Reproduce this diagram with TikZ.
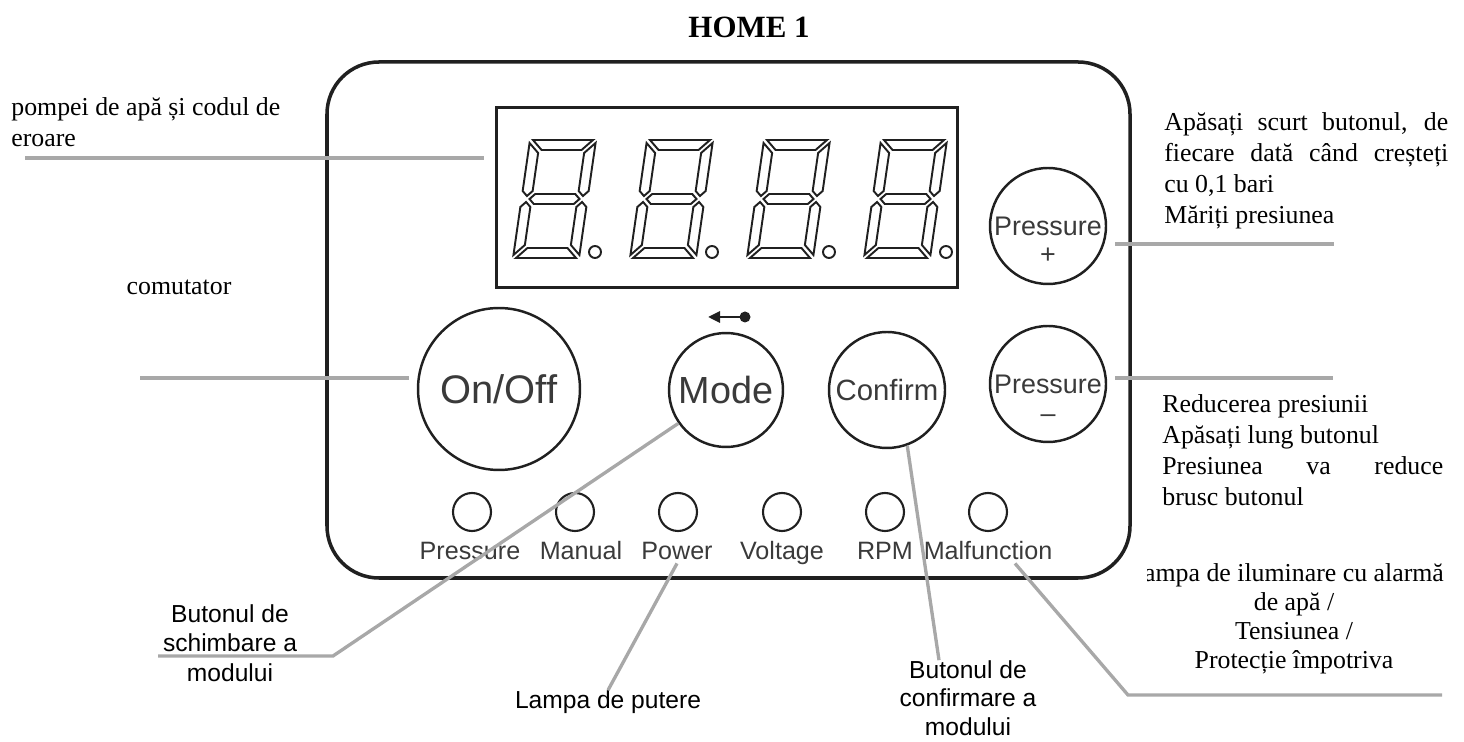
\documentclass[tikz,border=0pt]{standalone}
\usepackage{fontspec}
\setmainfont{Liberation Serif}
\setsansfont{Liberation Sans}
\usetikzlibrary{arrows.meta}

\definecolor{leadgray}{HTML}{A8A8A8}
\definecolor{inkdark}{HTML}{202020}
\definecolor{labelgray}{HTML}{3A3A3A}

% one seven-segment digit, #1 = left edge of its top
\newcommand{\segdigit}[1]{%
	\begin{scope}[shift={(#1,140)}, xslant=0.144, draw=inkdark, line width=1.1pt]
		\draw (3,0) -- (63,0) -- (53,10) -- (13,10) -- cycle;
		\draw (0,3) -- (10,13) -- (10,51) -- (5,56) -- (0,51) -- cycle;
		\draw (66,3) -- (66,51) -- (61,56) -- (56,51) -- (56,13) -- cycle;
		\draw (8,59) -- (13,54) -- (53,54) -- (58,59) -- (53,64) -- (13,64) -- cycle;
		\draw (0,67) -- (5,62) -- (10,67) -- (10,105) -- (0,115) -- cycle;
		\draw (66,67) -- (66,115) -- (56,105) -- (56,67) -- (61,62) -- cycle;
		\draw (3,118) -- (63,118) -- (53,108) -- (13,108) -- cycle;
	\end{scope}}

\begin{document}
\begin{tikzpicture}[x=0.02cm, y=-0.02cm,
		lead/.style={draw=leadgray, line width=1.9pt},
		btn/.style={circle, draw=inkdark, line width=1.4pt, inner sep=0pt, text=labelgray},
		led/.style={circle, draw=inkdark, line width=1.2pt, minimum size=0.76cm, inner sep=0pt},
		ledlbl/.style={font=\sffamily\fontsize{14.3}{14.3}\selectfont, text=labelgray, inner sep=0pt, text height=0.72em, text depth=0.2em},
		note/.style={font=\fontsize{14.7}{17.6}\selectfont, inner sep=0pt},
		snote/.style={font=\sffamily\fontsize{14}{16.8}\selectfont, align=center, inner sep=0pt}]
	\useasboundingbox (0,0) rectangle (1464,742);
	
	\node[font=\bfseries\fontsize{17.6}{17.6}\selectfont] (title) at (749,27) {HOME 1};
	
	% Panou
	\draw[inkdark, line width=2pt, rounded corners=1.04cm] (327,62) rectangle (1130,578);
	
	% Afisaj
	\node[draw=inkdark, line width=1.7pt, minimum width=9.24cm, minimum height=3.62cm, inner sep=0pt] (display) at (727,197.5) {};
	\foreach \dx in {530,647,764,881}
		\segdigit{\dx};
	\foreach \px in {595,712,829,946}
		\draw[inkdark, line width=1.1pt] (\px,252) circle (0.12cm);
	
	% Butoane
	\node[btn, minimum size=3.24cm, font=\sffamily\fontsize{22.7}{22.7}\selectfont] (onoff) at (499,389) {On/Off};
	\node[btn, minimum size=2.28cm, font=\sffamily\fontsize{21.5}{21.5}\selectfont] (mode) at (726,390) {Mode};
	\node[btn, minimum size=2.32cm, font=\sffamily\fontsize{16.7}{16.7}\selectfont] (confirm) at (887,390) {Confirm};
	\node[btn, minimum size=2.32cm, font=\sffamily\fontsize{15.3}{15.3}\selectfont] (pplus) at (1048,226) {Pressure};
	\node[text=labelgray, font=\sffamily\fontsize{15.3}{15.3}\selectfont, inner sep=0pt] (pplussign) at (1048,256) {+};
	\node[btn, minimum size=2.32cm, font=\sffamily\fontsize{15.3}{15.3}\selectfont] (pminus) at (1048,384) {Pressure};
	\node[text=labelgray, font=\sffamily\fontsize{15.3}{15.3}\selectfont, inner sep=0pt] (pminussign) at (1048,419) {–};
	
	% sageata Mode
	\fill[inkdark] (745,317) circle (0.11cm);
	\draw[inkdark, line width=1.6pt, -{Triangle[length=0.24cm, width=0.22cm]}] (745,317) -- (708,317);
	
	% Lampi
	\foreach \i/\lx/\tx/\lbl in {1/472/470/Pressure, 2/575/581/Manual, 3/678/677/Power, 4/782/782/Voltage, 5/885/885/RPM, 6/988/988/Malfunction}{
		\node[led] (led\i) at (\lx,512) {};
		\node[ledlbl] (lbl\i) at (\tx,555) {\lbl};
	}
	
	% Texte
	\node[note, anchor=west, align=left] (displaynote) at (11,122) {pompei de apă și codul de\\eroare};
	\node[note] (switchnote) at (179,287) {comutator};
	\node[note, anchor=north west, text width=5.68cm, align=justify] (plusnote) at (1164,112)
		{Apăsați scurt butonul, de\linebreak fiecare dată când creșteți\linebreak cu 0,1 bari\\Măriți presiunea};
	\node[note, anchor=north west, text width=5.62cm, align=justify] (minusnote) at (1162,394)
		{Reducerea presiunii\\Apăsați lung butonul\\Presiunea va reduce\linebreak brusc butonul};
	\begin{scope}
		\clip (1147,540) rectangle (1464,700);
		\node[note, font=\fontsize{14.7}{16.6}\selectfont, align=center] (alarmnote) at (1294,619)
			{ampa de iluminare cu alarmă\\de apă /\\Tensiunea /\\Protecție împotriva};
	\end{scope}
	\node[snote] (modenote) at (230,643) {Butonul de\\schimbare a\\modului};
	\node[snote] (powernote) at (608,702) {Lampa de putere};
	\node[snote, font=\sffamily\fontsize{14}{16.2}\selectfont] (confnote) at (968,698) {Butonul de\\confirmare a\\modului};
	
	% Linii
	\coordinate (disp1) at (25,158);
	\coordinate (disp2) at (484,158);
	\draw[lead] (disp1) -- (disp2);
	\coordinate (sw1) at (140,378);
	\coordinate (sw2) at (409,378);
	\draw[lead] (sw1) -- (sw2);
	\coordinate (plus1) at (1115,244);
	\coordinate (plus2) at (1334,244);
	\draw[lead] (plus1) -- (plus2);
	\coordinate (minus1) at (1115,378);
	\coordinate (minus2) at (1333,378);
	\draw[lead] (minus1) -- (minus2);
	\coordinate (mode1) at (158,656);
	\coordinate (mode2) at (333,656);
	\draw[lead] (mode1) -- (mode2) -- (mode.215);
	\draw[lead] (powernote.north) -- (lbl3.south);
	\draw[lead] (confirm.290) -- ([xshift=-0.58cm]confnote.north);
	\coordinate (alarm1) at (1128,695);
	\coordinate (alarm2) at (1442,695);
	\draw[lead] ([xshift=0.54cm]lbl6.south) -- (alarm1) -- (alarm2);
\end{tikzpicture}
\end{document}
